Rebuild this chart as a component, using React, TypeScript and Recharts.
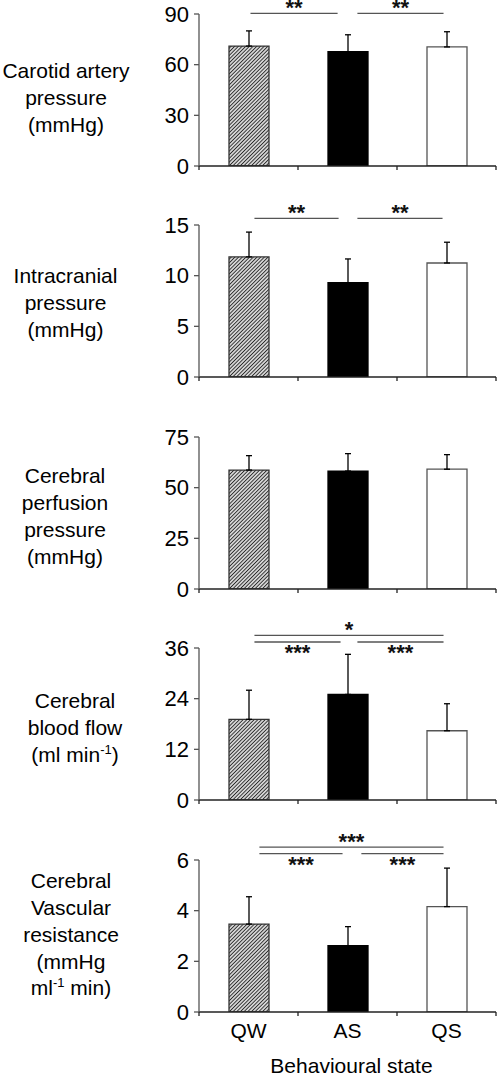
import React from 'react';
import { BarChart, Bar, XAxis, YAxis, Cell, ErrorBar, ReferenceLine } from 'recharts';

const FONT = '"Liberation Sans", Arial, Helvetica, sans-serif';

// behavioural states, one bar each
const STATES = ['QW', 'AS', 'QS'];

const carotidMean = [71.0, 67.7, 70.5];
const carotidSem = [9.0, 10.0, 9.0];
const carotidTicks = [0, 30, 60, 90];

const icpMean = [11.85, 9.3, 11.25];
const icpSem = [2.45, 2.35, 2.05];
const icpTicks = [0, 5, 10, 15];

const cppMean = [58.7, 58.2, 59.1];
const cppSem = [7.1, 8.6, 7.2];
const cppTicks = [0, 25, 50, 75];

const cbfMean = [19.1, 25.0, 16.4];
const cbfSem = [6.9, 9.5, 6.4];
const cbfTicks = [0, 12, 24, 36];

const cvrMean = [3.47, 2.62, 4.16];
const cvrSem = [1.08, 0.75, 1.52];
const cvrTicks = [0, 2, 4, 6];

type Bracket = { from: number; to: number; y: number; stars: string; below?: boolean };

const carotidBrackets: Bracket[] = [
  { from: 0.52, to: 1.4, y: 90.4, stars: '**' },
  { from: 1.6, to: 2.47, y: 90.4, stars: '**' },
];
const icpBrackets: Bracket[] = [
  { from: 0.56, to: 1.41, y: 15.65, stars: '**' },
  { from: 1.6, to: 2.46, y: 15.65, stars: '**' },
];
const cbfBrackets: Bracket[] = [
  { from: 0.56, to: 2.47, y: 39.0, stars: '*' },
  { from: 0.56, to: 1.43, y: 37.42, stars: '***', below: true },
  { from: 1.6, to: 2.47, y: 37.42, stars: '***', below: true },
];
const cvrBrackets: Bracket[] = [
  { from: 0.61, to: 2.47, y: 6.51, stars: '***' },
  { from: 0.61, to: 1.45, y: 6.25, stars: '***', below: true },
  { from: 1.64, to: 2.47, y: 6.25, stars: '***', below: true },
];

// category edges (integers) get tick marks, centres (halves) get labels
const X_TICKS = [0, 0.5, 1, 1.5, 2, 2.5, 3];

const StarLabel = (props: any) => {
  const { viewBox, text, below } = props;
  if (!viewBox) return null;
  const cx = viewBox.x + (viewBox.width || 0) / 2;
  const y = viewBox.y + (below ? 18 : 1.5);
  return (
    <text x={cx} y={y} textAnchor="middle" fontSize={22} fontWeight="bold" fontFamily={FONT} fill="#111">
      {text}
    </text>
  );
};

const XTick = (props: any) => {
  const { x, y, payload, showLabels } = props;
  const v = payload.value;
  if (Number.isInteger(v)) {
    return <line x1={x} x2={x} y1={y} y2={y + 4} stroke="#222" strokeWidth={1.3} />;
  }
  if (!showLabels) return <g />;
  return (
    <text x={x} y={y + 26} textAnchor="middle" fontSize={21} fontFamily={FONT} fill="#000">
      {STATES[Math.floor(v)]}
    </text>
  );
};

const XTitle = (props: any) => {
  const { viewBox } = props;
  if (!viewBox) return null;
  return (
    <text x={viewBox.x + viewBox.width / 2 + 4} y={viewBox.y + 61} textAnchor="middle" fontSize={21} fontFamily={FONT} fill="#000">
      Behavioural state
    </text>
  );
};

function Panel({ id, top, means, sems, ticks, brackets, last }: {
  id: string;
  top: number;
  means: number[];
  sems: number[];
  ticks: number[];
  brackets: Bracket[];
  last?: boolean;
}) {
  const rows = STATES.map((s, i) => ({ name: s, pos: i + 0.5, mean: means[i], err: [0, sems[i]] }));
  const fills = [`url(#hatch-${id})`, '#000', '#fff'];
  const strokes = ['#333', '#000', '#555'];
  const xHeight = last ? 62 : 16;

  return (
    <div style={{ position: 'absolute', left: 0, top }}>
      <BarChart width={497} height={40 + 152 + xHeight} data={rows} margin={{ top: 40, right: 1, bottom: 0, left: 0 }}>
        <defs>
          <pattern id={`hatch-${id}`} patternUnits="userSpaceOnUse" width={2.6} height={2.6} patternTransform="rotate(45)">
            <rect width={2.6} height={2.6} fill="#eeeeee" />
            <line x1={1.3} y1={0} x2={1.3} y2={2.6} stroke="#2a2a2a" strokeWidth={1.1} />
          </pattern>
        </defs>
        <XAxis
          type="number"
          dataKey="pos"
          domain={[0, 3]}
          ticks={X_TICKS}
          interval={0}
          allowDataOverflow
          tickLine={false}
          tickSize={0}
          tickMargin={0}
          height={xHeight}
          axisLine={{ stroke: '#222', strokeWidth: 1.3 }}
          tick={<XTick showLabels={last} />}
          label={last ? <XTitle /> : undefined}
        />
        <YAxis
          type="number"
          domain={[0, ticks[ticks.length - 1]]}
          ticks={ticks}
          interval={0}
          allowDataOverflow
          width={199}
          tickSize={5}
          tickMargin={5}
          axisLine={{ stroke: '#555', strokeWidth: 1.3 }}
          tickLine={{ stroke: '#555', strokeWidth: 1.3 }}
          tick={{ fill: '#000', fontSize: 22, fontFamily: FONT }}
        />
        <Bar dataKey="mean" barSize={40} isAnimationActive={false}>
          {rows.map((r, i) => (
            <Cell key={r.name} fill={fills[i]} stroke={strokes[i]} strokeWidth={1.3} />
          ))}
          <ErrorBar dataKey="err" direction="y" width={3} stroke="#000" strokeWidth={1.3} isAnimationActive={false} />
        </Bar>
        {brackets.map((b, i) => (
          <ReferenceLine
            key={i}
            segment={[{ x: b.from, y: b.y }, { x: b.to, y: b.y }]}
            stroke="#555"
            strokeWidth={1.3}
            ifOverflow="visible"
            label={<StarLabel text={b.stars} below={b.below} />}
          />
        ))}
      </BarChart>
    </div>
  );
}

function SideLabel({ cx, top, children }: { cx: number; top: number; children: React.ReactNode }) {
  return (
    <div
      style={{
        position: 'absolute',
        left: cx - 80,
        top,
        width: 160,
        textAlign: 'center',
        fontSize: 21,
        lineHeight: '26.7px',
        color: '#000',
        fontFamily: FONT,
      }}
    >
      {children}
    </div>
  );
}

const sup: React.CSSProperties = { fontSize: 13, position: 'relative', top: -8, lineHeight: 0 };

export default function App() {
  return (
    <div style={{ position: 'absolute', left: 0, top: 0, width: 497, height: 1074, background: '#fff', overflow: 'hidden' }}>
      <Panel id="cap" top={-26} means={carotidMean} sems={carotidSem} ticks={carotidTicks} brackets={carotidBrackets} />
      <Panel id="icp" top={185.3} means={icpMean} sems={icpSem} ticks={icpTicks} brackets={icpBrackets} />
      <Panel id="cpp" top={396.7} means={cppMean} sems={cppSem} ticks={cppTicks} brackets={[]} />
      <Panel id="cbf" top={607.7} means={cbfMean} sems={cbfSem} ticks={cbfTicks} brackets={cbfBrackets} />
      <Panel id="cvr" top={819.7} means={cvrMean} sems={cvrSem} ticks={cvrTicks} brackets={cvrBrackets} last />

      <SideLabel cx={66} top={58.4}>
        Carotid artery<br />pressure<br />(mmHg)
      </SideLabel>
      <SideLabel cx={65.5} top={263.4}>
        Intracranial<br />pressure<br />(mmHg)
      </SideLabel>
      <SideLabel cx={65} top={463.4}>
        Cerebral<br />perfusion<br />pressure<br />(mmHg)
      </SideLabel>
      <SideLabel cx={75} top={688.4}>
        Cerebral<br />blood flow<br />(ml min<span style={sup}>-1</span>)
      </SideLabel>
      <SideLabel cx={71} top={868.4}>
        Cerebral<br />Vascular<br />resistance<br />(mmHg<br />ml<span style={sup}>-1</span> min)
      </SideLabel>
    </div>
  );
}
